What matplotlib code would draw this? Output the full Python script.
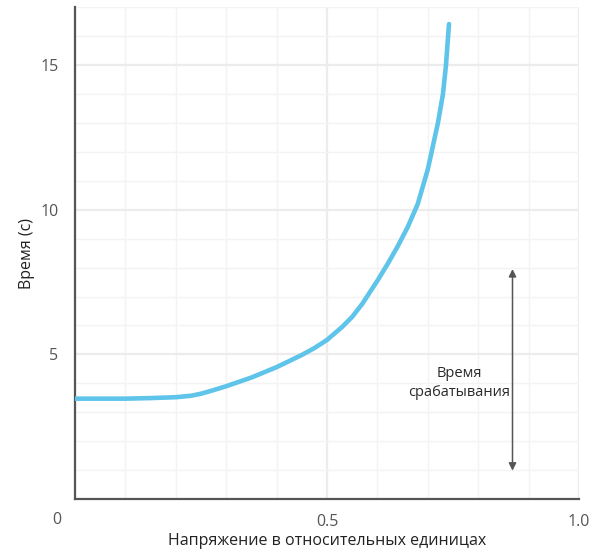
import matplotlib.pyplot as plt
from matplotlib.ticker import MultipleLocator

plt.rcParams['font.family'] = ['Open Sans', 'DejaVu Sans']

# values
voltage = [0.0, 0.05, 0.1, 0.15, 0.2, 0.23, 0.25, 0.27, 0.3, 0.35, 0.4, 0.45,
           0.475, 0.5, 0.53, 0.55, 0.57, 0.6, 0.62, 0.64, 0.66, 0.68, 0.69, 0.70,
           0.71, 0.72, 0.73, 0.736, 0.742]
trip_time = [3.47, 3.47, 3.47, 3.49, 3.52, 3.57, 3.64, 3.74, 3.9, 4.2, 4.56, 4.98,
             5.22, 5.5, 5.95, 6.3, 6.75, 7.55, 8.12, 8.73, 9.4, 10.2, 10.8, 11.4,
             12.2, 13.0, 14.0, 15.0, 16.42]

arrow_x = 0.868
arrow_span = (7.95, 0.98)

fig = plt.figure(figsize=(6.06, 5.53), dpi=100)
ax = fig.add_axes([0.1238, 0.0976, 0.8317, 0.8892])

ax.set_xlim(0, 1.0)
ax.set_ylim(0, 17)

ax.xaxis.set_major_locator(plt.FixedLocator([0.5, 1.0]))
ax.yaxis.set_major_locator(plt.FixedLocator([5, 10, 15]))
ax.xaxis.set_minor_locator(MultipleLocator(0.1))
ax.yaxis.set_minor_locator(MultipleLocator(1))
ax.set_xticklabels(['0.5', '1.0'])
ax.tick_params(which='both', length=0)
ax.tick_params(axis='x', pad=11, labelsize=11.5, labelcolor='#555555')
ax.tick_params(axis='y', pad=12, labelsize=11.5, labelcolor='#555555')

ax.grid(True, which='minor', color='#f3f3f3', linewidth=1.0)
ax.grid(True, which='major', color='#ececec', linewidth=1.6)
ax.set_axisbelow(True)

for side in ['top', 'right']:
    ax.spines[side].set_visible(False)
for side in ['left', 'bottom']:
    ax.spines[side].set_color('#555555')
    ax.spines[side].set_linewidth(1.6)

ax.plot(voltage, trip_time, color='#5ec4ea', linewidth=3.3,
        solid_capstyle='round', solid_joinstyle='round', zorder=3)

ax.annotate('', xy=(arrow_x, arrow_span[0]), xytext=(arrow_x, arrow_span[1]),
            arrowprops=dict(arrowstyle='<|-|>', color='#555555', lw=1.1,
                            mutation_scale=11, shrinkA=0, shrinkB=0))
ax.text(0.763, 4.0, 'Время\nсрабатывания', ha='center', va='center',
        fontsize=10.5, color='#2a2a2a', linespacing=1.35)

# shared zero at the corner
ax.text(-0.036, -0.72, '0', ha='center', va='center', fontsize=11.5, color='#555555')

ax.set_xlabel('Напряжение в относительных единицах', fontsize=11.5,
              color='#222222', labelpad=2)
ax.set_ylabel('Время (с)', fontsize=11.5, color='#222222', labelpad=4)

fig.savefig('out.png', dpi=100)
